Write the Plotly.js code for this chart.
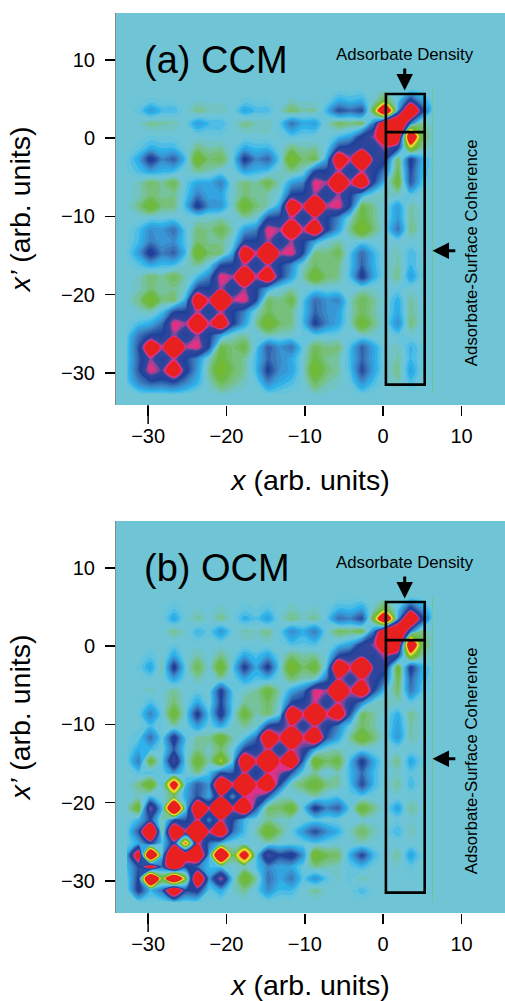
<!DOCTYPE html>
<html><head><meta charset="utf-8">
<script src="https://cdn.plot.ly/plotly-3.0.1.min.js"></script>
<style>html,body{margin:0;padding:0;background:#fff}#c{width:505px;height:1001px}</style>
</head><body><div id="c"></div>
<script>
const gridCoords=[-32.7,-31.2,-29.7,-28.2,-26.7,-25.2,-23.7,-22.2,-20.7,-19.2,-17.7,-16.2,-14.7,-13.2,-11.7,-10.2,-8.7,-7.2,-5.7,-4.2,-2.7,-1.2,0.2,1.9,3.5,4.8,6.3];
const tickVals=[-30,-20,-10,0,10];
const ccmZ=[
[0,0.2,0.4,0.4,0.5,0.3,0,-0.1,-0.3,-0.1,0,0,0.3,0.2,0.1,0,-0.3,-0.1,0,0,0.3,0.1,0,0,0,0,0],
[0.5,2.5,3.5,3.3,3.8,2.5,1.2,-0.4,-1.8,-1,-0.4,0.3,2.4,1.4,0.8,0,-1.7,-0.7,-0.3,0.3,2.2,0.8,0,-0.5,0.8,0.1,0],
[0.7,3.5,7.2,5.6,11,4.5,1.8,-0.9,-3.5,-1.6,-0.8,1,4.2,2.2,1.6,-0.1,-3.3,-1.3,-0.7,0.8,3.9,1.6,0,-1,1.7,0.3,0],
[0.6,3.3,6.2,4.4,6.5,4,2.3,-0.3,-2.5,-1.3,-0.9,0.9,3.2,2.3,1.5,0,-2.2,-1,-0.6,0.9,3.2,1.5,0,-0.7,1,0.3,0],
[0.6,3.6,11,6.5,15,6.5,7.2,3.8,-2,-1.3,-2.1,0.5,3.4,2.1,2.9,0.3,-1.7,-1,-1.2,0.8,3.3,1.5,0,-0.5,1.1,0.3,0],
[0.4,2.8,4,4.2,6.3,4.4,6.2,4.2,1.6,-0.3,-0.7,0.1,-0.5,-0.3,-0.2,0.3,0.5,0.3,0.2,0,-0.2,-0.2,0,0.4,0,0,0],
[0.2,0.8,1.4,3,7.2,6.2,11,6.5,11,4.2,1.7,-0.8,-3.3,-1.5,-1,0.8,4.2,2.4,1.5,-0.3,-3,-1,0,2.2,-1.2,-0.2,0],
[0,-0.2,-0.4,0.8,3.8,4.2,6.5,4.4,6.5,4.2,2.5,-0.2,-1.7,-1,-1,0.7,3.2,2.2,1.7,-0.3,-1.8,-0.7,0,1.5,-0.9,-0.1,0],
[-0.1,-1,-3.5,-1.2,-1.5,1.5,11,6.5,15,6.5,7.2,3.8,-1.6,-0.9,-2.1,0.6,3,2.1,2.4,-0.3,-1.9,-0.8,0,1.3,-0.8,0,0],
[0,-0.4,-1.2,-0.7,-0.9,-0.2,4,4.2,6.4,4.4,6.2,4.2,1.6,0,-0.5,0,0.2,0,0.1,0,-0.2,-0.2,0,0.3,-0.1,0,0],
[0,-0.3,-1.3,-0.8,-1.8,-0.5,0.8,2.6,7.2,6.2,12.5,6.5,11,4.2,1.7,-0.7,-3,-1.3,-0.9,0.8,4.5,1.4,0,-1,1.8,0.3,0],
[0.1,0.6,1.5,1,0.9,-0.3,-0.8,0.2,3.7,4.2,6.5,4.4,6.5,4.2,2.4,-0.2,-1.5,-1,-1,0.7,3.3,1.2,0,-0.7,1,0.2,0],
[0.2,1.8,4.6,2.6,3.3,0.9,-3.2,-1.5,-1.2,1.5,11,6.5,15,6.5,7.2,3.8,-1.3,-1,-1.9,0.6,3.2,1.1,0,-0.6,1,0.2,0],
[0.1,1,2.6,1.9,2.2,0.6,-1.4,-0.9,-0.9,0,4,4.2,6.4,4.4,6.2,4.2,1.6,-0.1,-0.6,0,0.3,0.1,0,0,0,0,0],
[0.1,0.8,2.2,2,3,0.4,-1.2,-1,-2,-0.5,1.7,2.6,7.2,6.2,11,6.5,11,4.2,1.7,-1,-3.6,-1.2,0,2.9,-1.1,-0.2,0],
[0,0,0.2,0.2,0.3,0,-0.2,-0.3,-0.5,0,-0.6,-0.2,3.7,4.2,6.5,4.4,6.5,4.2,2.5,-0.2,-2.4,-0.9,0,1.9,-0.8,-0.1,0],
[-0.1,-1,-3,-1.2,-1.1,1,4.5,2.2,2,-0.3,-3,-1.2,-0.5,1.6,11,6.5,15,6.5,7.2,3.8,-2,-0.8,0,1.7,-0.7,-0.1,0],
[0,-0.4,-1.2,-0.9,-1,0.6,2.5,1.6,1.6,-0.2,-1.2,-0.8,-0.6,0,4,4.2,6.4,4.4,6.2,4.2,1.6,-0.1,-0.3,-0.4,0.6,0.1,0],
[0,-0.4,-1.5,-0.9,-1.8,0.4,1.5,1.4,2.6,-0.2,-1.2,-0.7,-2,-0.4,1.7,2.6,7.2,6.2,12.5,6.5,11,3.8,0.8,-2.6,3.6,1,0],
[0.2,0.8,1.7,1.2,1,0,-0.9,-0.5,0,-0.1,1.7,1.2,0.8,-0.2,-1,-0.2,3.8,4.2,6.5,4.4,6.5,4.6,2.6,-1.9,3.9,1.3,0.1],
[0.2,1.5,4.6,2.4,3.4,0.8,-3.2,-1.4,-1.8,0.2,4.4,2.4,3.2,0.5,-3.6,-1.4,-2,1.6,11,6.5,15,5.2,4.6,-1.8,4.4,1.6,0.1],
[0,0.4,1.2,0.9,0.9,0.1,-1,-0.6,-0.7,0.1,1.3,0.9,1,0.1,-1.1,-0.6,-0.7,0.2,3.8,4.6,5.2,4.6,6.5,4.2,-4.5,-1,0],
[0,0,0.3,0.2,0.2,0,0,0.1,0.2,0,0,0,-0.1,0.1,0.6,0.3,0.2,0,0.8,1.6,4.5,6.2,11,11,-14,-2.5,0],
[0,-0.2,-0.9,-0.7,-0.6,0.2,1.8,1,1,-0.1,-1,-0.6,-0.6,0.5,2.9,1.5,1.7,-0.3,-1.6,-1.2,-1.6,2.6,11,14,3,-1,0],
[0,0.4,1.9,0.9,0.9,0,-1,-0.5,-0.5,0,1.6,0.9,0.8,-0.2,-1.5,-0.7,-0.8,1.1,3.8,3,3.8,-2.5,-15,2,14,5,0.3],
[0,0.1,0.3,0.2,0.2,0,-0.2,-0.1,-0.1,0,0.3,0.2,0.2,0,-0.3,-0.1,-0.1,0.2,1.3,1,1.2,-0.3,-2.2,0.5,4.5,2,0.2],
[0,0,0,0,0,0,0,0,0,0,0,0,0,0,0,0,0,0,0,0,0,0,0,0,0,0,0]
];
const ocmZ=[
[0,0.1,0.3,0.1,0.5,0.3,0.3,0,0,0,0,0,0.1,0,0,0,0,0,0,0,0,0,0,0,0,0,0],
[0,4.5,1,3,12.5,4,4.5,0.5,1.5,-0.2,-0.9,0.3,2.2,1,1,0,-0.9,-0.2,0,0.1,0.9,0.2,0,0,0,0,0],
[0.3,4.2,-18,-3,-17,-3,12.5,2,6.8,0.5,-3.2,-0.8,3,1.5,2.8,0.5,2.2,0.6,-0.3,0.4,-0.6,-0.1,0,-0.1,0.1,0,0],
[1,3.8,10,3,12.5,4,3,0.9,0.5,0,-0.6,0.7,2.4,1.5,1.5,0.3,-1,-0.5,-0.3,0.5,1,0.2,0,-0.2,0.4,0,0],
[1.5,10,-18,1,16,11,12.5,1.5,-18,-1.5,-11,0.3,6,4,4.7,2,-3.2,-1.8,-1.5,1.3,4,1,0,-0.8,1.7,0.3,0],
[0.3,1.5,4.2,0.5,5,-8,7.5,3,1,0,0.3,0,-0.4,0,0.1,0.2,0.6,0.3,0,-0.1,-0.4,0,0,0.1,0,0,0],
[0.3,3.5,15,-1.5,12.5,6.8,14,6.5,11,3,0.8,-0.5,-3.2,-1.2,0.3,2,3.8,2.2,1.2,-0.3,-1.6,-0.5,0,1,-0.6,0,0],
[0,1.2,4,-0.8,3.5,3.5,6.9,2.5,6.9,4,1,0,-0.8,-0.3,-0.2,0,0.4,0.2,0.1,0,-0.2,0,0,0.2,-0.1,0,0],
[-0.3,-2.8,6.5,1,-17,0.3,12.5,6.8,16,7,12.5,3.5,-1.5,-1.5,-2.8,0.5,4.5,2.5,3.3,0.3,-2.7,-1,0,1.7,-0.9,-0.1,0],
[0,-0.3,0.8,0,-1.5,1.5,3.7,1.5,6.8,2.2,6.9,6.5,3.5,-0.2,0.1,0,-0.6,0.3,0.6,0.5,0.5,0.2,0,0,0,0,0],
[0,-1,-3.2,0.8,-11,1,3.5,2,12.5,6.9,16,7,12.5,3.8,-0.5,-1.5,-2.8,-1.2,-0.7,0.8,3.8,1,0,-0.8,1,0.1,0],
[0,0.6,0.8,0.3,2,0.3,-1,0.8,3.8,3.5,6.9,4,6.9,6.5,3.5,0.1,-0.8,0.1,-0.6,1,3,1,0,-0.3,0.5,0.1,0],
[0.2,2.7,-2.5,0.5,6,0.3,-2.8,-0.5,-4.2,0.5,12.5,6.9,16,7,12.5,3,-3.2,-1.5,-2.2,1,4.4,1.4,0,-1,1.6,0.4,0],
[0.1,1.4,1,0,3.5,0.2,-1,-0.4,-1.5,0,4,4.6,6.9,4.5,6.9,5.5,1.5,-0.3,-0.4,-0.1,0.3,0.1,0,0,0,0,0],
[0.1,0.5,3,0.2,4.7,0.6,-0.8,-0.8,-2.8,-0.6,0.5,3,12.5,7,16,7,12.5,3.5,1.5,-0.8,-3.1,-1.3,0,1.9,-0.7,-0.1,0],
[0,0.1,0.8,0.2,-0.6,0.1,1.8,0.3,1.5,-0.2,-0.8,-0.3,3.8,5,6.9,4.8,6.8,4.7,2.5,0.2,-1.5,-0.7,0,1.7,-0.7,-0.1,0],
[0,0.2,2.5,0.3,-2.8,0.2,4.5,0.6,4.6,0.3,-2.6,-0.5,-1.5,0.5,12.5,6.9,16,7,11,3.5,-1.8,-0.7,0,1.3,-1,-0.1,0],
[0,0,0.8,0,-1.3,0,1.5,0,4,0.5,-0.8,-0.6,-1.6,-0.2,3.8,4.5,6.8,4.6,6.8,5,2.5,-0.2,-0.5,-0.4,0.4,0,0],
[0,-0.1,-0.4,0,-0.9,0,0.3,0,4.3,0.5,-0.3,-0.7,-2.5,-0.5,1.5,2.8,7.2,6.4,14,6.8,11.5,4,0.8,-1.5,2.8,0.8,0],
[0,0,0.2,0,1.6,0.2,-0.6,0,-0.6,0.2,1.5,0.8,1,0.1,-1.3,-0.5,-0.2,3,6.9,4.8,6.9,5,3,-2,3.3,1.2,0.1],
[0,0.3,1.6,-0.7,4.6,0.2,-1.9,0,-3,0.5,4.3,1.5,4.4,0.3,-3.6,-1.5,-2.6,0.8,12.5,6.9,16,5.4,5,-2.8,4.4,1.6,0.1],
[0,0,0.5,-0.2,1.5,0,-0.6,0,-1,0,1.5,0.8,1.6,0.1,-1.2,-0.7,-0.8,0,3.8,4.8,5.4,4.8,6.5,4.2,-4.5,-1,0],
[0,0,0,0,0.3,0,0,0,0,0,0,0,-0.1,0.1,0.7,0.5,0.7,0,0.8,1.6,4.5,6.2,11,11,-14,-2.5,0],
[0,0,-0.1,0,-0.9,-0.2,1.1,0.4,2,0.2,-0.7,-0.4,-1,0.3,2.3,1.3,2.7,0,-1.6,-1.3,-2,2.6,11,14,3,-1,0],
[0,0,0.1,0,1.6,0,-0.8,0,-1,0,1.3,0.7,1.8,-0.1,-1.1,-0.4,-0.9,0.4,3,2.5,3.9,-2.5,-15,2,14,5,0.3],
[0,0,0,0,0.6,0,-0.2,0,-0.3,0,0.4,0.2,0.6,0,-0.4,-0.1,-0.3,0.2,1,0.9,1.5,-0.3,-2.2,0.5,4.5,2,0.2],
[0,0,0,0,0,0,0,0,0,0,0,0,0,0,0,0,0,0,0,0,0,0,0,0,0,0,0]
];
const colorStops=[[-8.4,'#e8201f'],[-7.5,'#e8201f'],[-6.6,'#f5901f'],[-5.6,'#f9ed32'],[-4.4,'#b2cf2d'],[-3.2,'#74b92e'],[-2,'#6cbb4a'],[-1,'#79c188'],[-0.2,'#6fc5d5'],[0.2,'#6fc5d5'],[0.6,'#5cc2e2'],[1.2,'#2eb2ea'],[2.2,'#3a8fcf'],[2.8,'#3a76b8'],[4,'#1e419a'],[5.6,'#34469c'],[6.2,'#8a4799'],[6.8,'#dc3288'],[7.3,'#ee2a6b'],[7.5,'#e8201f'],[8.4,'#e8201f']];
const colorscale=colorStops.map(s=>[(s[0]+8.4)/16.8,s[1]]);
const FONT='"Liberation Sans",Arial,sans-serif';
const W=505,H=1001;
function contour(z,xa,ya){return {type:'contour',x:gridCoords,y:gridCoords,z:z,xaxis:xa,yaxis:ya,colorscale:colorscale,showscale:false,autocontour:false,contours:{start:-8.2,end:8.2,size:0.4,coloring:'fill',showlines:false},line:{width:0,smoothing:0.9},hoverinfo:'skip'};}
function xAxis(anchor){return {domain:[116/W,1],range:[-34.1,15.55],anchor:anchor,tickvals:tickVals,ticks:'outside',ticklen:10,tickwidth:1.5,tickcolor:'#000',showgrid:false,zeroline:false,showline:false,tickfont:{family:FONT,size:20,color:'#000'},ticklabelstandoff:3,title:{text:'<i>x</i> (arb. units)',font:{family:FONT,size:28.5,color:'#000'},standoff:24}};}
function yAxis(anchor,top,bottom){return {domain:[(H-bottom)/H,(H-top)/H],range:[-34.1,16],anchor:anchor,tickvals:tickVals,ticks:'outside',ticklen:10,tickwidth:1.5,tickcolor:'#000',showgrid:false,zeroline:false,showline:true,linecolor:'#888',linewidth:1,tickfont:{family:FONT,size:20,color:'#000'},ticklabelstandoff:6,title:{text:'<i>x\u2019</i> (arb. units)',font:{family:FONT,size:28.5,color:'#000'},standoff:22}};}
const shapes=[],annotations=[];
[['x','y','(a) CCM',405],['x2','y2','(b) OCM',913]].forEach(p=>{
  const [xa,ya,label,bot]=p;
  shapes.push({type:'rect',xref:xa,yref:ya,x0:0.35,x1:5.3,y0:-31.5,y1:5.65,line:{color:'#000',width:2.6}});
  shapes.push({type:'line',xref:xa,yref:ya,x0:0.35,x1:5.3,y0:0.77,y1:0.77,line:{color:'#000',width:2.6}});
  shapes.push({type:'line',xref:xa,yref:'paper',x0:-30,x1:-30,y0:(H-bot)/H,y1:(H-bot-19)/H,line:{color:'#000',width:1.5}});
  annotations.push({xref:xa,yref:ya,x:-30.8,y:10.0,xanchor:'left',yanchor:'middle',text:label,showarrow:false,font:{family:FONT,size:38,color:'#000'}});
  annotations.push({xref:xa,yref:ya,x:2.75,y:10.7,xanchor:'center',yanchor:'middle',text:'Adsorbate Density',showarrow:false,font:{family:FONT,size:16.8,color:'#000'}});
  annotations.push({xref:xa,yref:ya,x:11.3,y:-14.6,xanchor:'center',yanchor:'middle',text:'Adsorbate-Surface Coherence',textangle:-90,showarrow:false,font:{family:FONT,size:16.8,color:'#000'}});
  annotations.push({xref:xa,yref:ya,axref:xa,ayref:ya,x:2.75,y:6.1,ax:2.75,ay:9.1,text:'',showarrow:true,arrowhead:2,arrowsize:1.1,arrowwidth:3,arrowcolor:'#000'});
  annotations.push({xref:xa,yref:ya,axref:xa,ayref:ya,x:6.3,y:-14.4,ax:9.4,ay:-14.4,text:'',showarrow:true,arrowhead:2,arrowsize:1.1,arrowwidth:3,arrowcolor:'#000'});
});
const layout={width:W,height:H,margin:{l:0,r:0,t:0,b:0},paper_bgcolor:'#fff',plot_bgcolor:'#6fc5d5',font:{family:FONT},showlegend:false,
  xaxis:xAxis('y'),yaxis:yAxis('x',13,405),xaxis2:xAxis('y2'),yaxis2:yAxis('x2',521,913),shapes:shapes,annotations:annotations};
Plotly.newPlot('c',[contour(ccmZ,'x','y'),contour(ocmZ,'x2','y2')],layout,{staticPlot:true,displayModeBar:false});
</script></body></html>
